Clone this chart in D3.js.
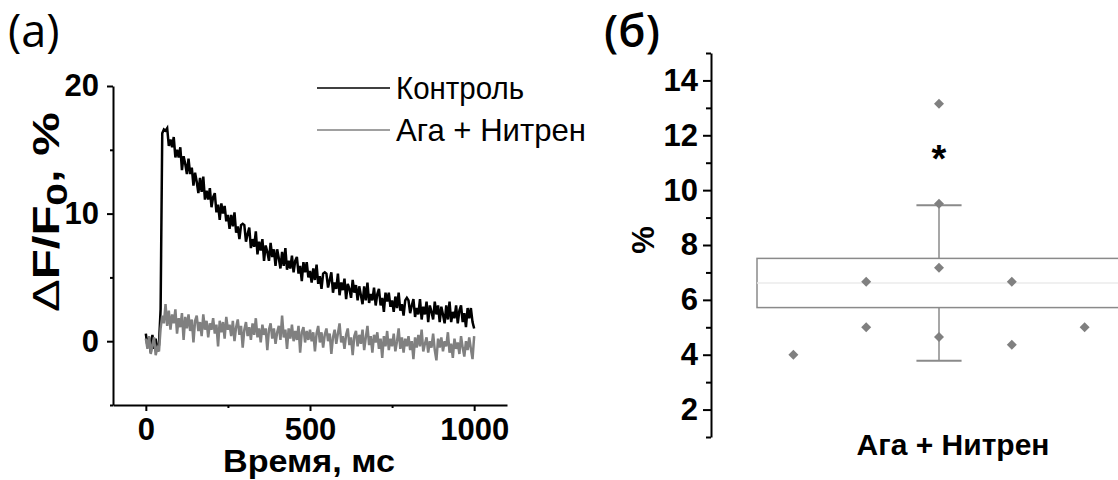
<!DOCTYPE html>
<html>
<head>
<meta charset="utf-8">
<title></title>
<script src="https://cdnjs.cloudflare.com/ajax/libs/d3/7.8.5/d3.min.js"></script>
<style>
  body { margin: 0; background: #fff; }
</style>
</head>
<body>
<script>
const width = 1118;
const height = 480;
const font = '"Liberation Sans", Arial, sans-serif';

// (a) fluorescence traces, one sample every 5 ms from 0 ms
const sampleStep = 5;
const controlTrace = [
  0.6, -0.4, 0.3, -0.9, 0.5, -0.6, 0.2, -0.8, -0.3, 2.5,
  16.3, 16.6, 16.5, 16.7, 15.3, 15.8, 15.2, 16.0, 14.4, 15.0,
  14.4, 15.2, 13.4, 14.5, 13.9, 13.1, 14.3, 13.1, 13.6, 12.2,
  13.2, 12.5, 11.6, 12.8, 11.7, 12.9, 11.1, 11.8, 11.1, 12.0,
  10.5, 11.3, 11.6, 10.1, 10.7, 9.5, 10.8, 10.0, 10.6, 9.4,
  9.9, 8.8, 9.9, 9.0, 10.1, 8.5, 9.0, 8.0, 9.1, 9.2,
  9.1, 7.8, 8.4, 8.9, 7.3, 8.0, 7.4, 8.6, 6.8, 7.8,
  7.1, 8.0, 6.3, 7.5, 7.0, 6.3, 7.7, 6.6, 7.2, 5.9,
  7.2, 6.5, 5.7, 7.0, 5.9, 7.3, 5.6, 6.3, 5.7, 6.7,
  5.4, 6.3, 6.6, 5.3, 5.9, 4.7, 6.2, 5.4, 6.2, 5.0,
  5.5, 4.6, 5.7, 4.8, 6.0, 4.5, 5.1, 4.1, 5.3, 5.4,
  5.3, 4.2, 4.8, 5.4, 3.8, 4.6, 4.1, 5.3, 3.6, 4.6,
  4.0, 4.9, 3.3, 4.5, 4.1, 3.4, 4.8, 3.8, 4.4, 3.2,
  4.3, 3.6, 2.9, 4.3, 3.2, 4.6, 3.0, 3.7, 3.2, 4.2,
  2.8, 3.7, 4.1, 2.8, 3.4, 2.3, 3.8, 3.1, 3.8, 2.7,
  3.2, 2.3, 3.5, 2.6, 3.8, 2.4, 2.9, 2.0, 3.2, 3.4,
  3.2, 2.2, 2.8, 3.3, 1.9, 2.6, 2.1, 3.3, 1.7, 2.7,
  2.1, 3.1, 1.5, 2.8, 2.3, 1.7, 3.1, 2.1, 2.8, 1.5,
  2.7, 2.1, 1.4, 2.8, 1.7, 3.1, 1.5, 2.3, 1.8, 2.8,
  1.4, 2.4, 2.8, 1.5, 2.2, 1.1, 2.6, 1.8, 2.6, 1.5,
  1.0
];
const agaTrace = [
  0.2, -0.6, 0.4, -1.0, -0.3, 0.3, -1.1, -0.5, -0.8, 1.0,
  2.0, 1.4, 2.9, 1.2, 2.4, 0.9, 2.1, 1.4, 2.5, 0.6,
  1.8, 1.1, 2.2, 0.1, 1.9, 1.0, 2.1, 0.8, 1.7, -0.1,
  1.6, 2.0, 0.8, 1.5, 0.4, 2.1, 0.9, 1.6, 0.3, 1.4,
  0.9, 1.8, 0.6, 1.3, -0.4, 1.6, 0.7, 1.5, 0.2, 1.9,
  0.9, 1.3, 0.4, 1.6, 0.0, 1.1, 1.7, 0.5, 1.2, -0.5,
  0.9, 1.5, 0.4, 1.1, 0.1, 1.4, 0.5, 1.8, 0.3, 1.0,
  -0.1, 1.3, 0.5, 1.0, -0.7, 0.9, 1.4, 0.2, 1.0, -0.2,
  0.7, 1.2, 0.1, 2.0, 0.3, 0.9, -0.6, 1.0, 0.2, 1.3,
  0.0, 0.8, 0.1, 1.2, -0.9, 0.7, 1.1, -0.1, 0.8, 0.1,
  0.9, 0.0, 0.7, -0.8, 0.6, 1.2, -0.1, 0.7, -0.5, 0.5,
  1.0, 0.0, 0.6, -1.0, 0.3, 0.9, -0.2, 0.6, 1.4, -0.1,
  0.4, -0.6, 0.5, 1.0, -0.3, 0.3, -1.1, 0.4, 0.8, -0.4,
  0.5, -0.2, 0.9, -0.7, 0.3, 1.2, -0.3, 0.4, -0.9, 0.5,
  -0.1, 0.7, -0.6, 0.2, -1.3, 0.4, -0.4, 0.8, -0.7, 0.2,
  -0.4, 0.6, -0.8, 0.0, 1.0, -0.6, 0.3, -0.9, 0.2, -0.4,
  0.4, -0.7, 0.0, -1.4, 0.3, -0.5, 0.5, -0.4, 0.9, -0.8,
  -0.2, 0.3, -0.9, 0.0, -0.5, 0.6, -0.7, -1.5, 0.2, -0.5,
  0.3, -0.8, 0.0, -0.4, 0.7, -0.9, -0.2, -1.3, 0.2, -0.6,
  -0.1, -1.0, 0.4, -0.5, -1.2, 0.0, -0.7, 0.3, -0.6, -1.4,
  0.4
];
const seriesNames = ['Контроль', 'Ага + Нитрен'];
const seriesColors = ['#000000', '#808080'];
const legendWidths = [128, 190];
const timeTicks = [0, 500, 1000];
const timeMinorTicks = [250, 750];
const dfTicks = [0, 10, 20];
const dfMinorTicks = [-5, 5, 15];

// (б) single cells
const groupName = 'Ага + Нитрен';
const pointValues = [4.0, 6.66, 5.0, 13.15, 9.5, 7.17, 4.65, 6.66, 4.36, 5.0];
const pointColumns = [-2, -1, -1, 0, 0, 0, 0, 1, 1, 2];
const pctTicks = [2, 4, 6, 8, 10, 12, 14];
const pctMinorTicks = [1, 3, 5, 7, 9, 11, 13, 15];
const starValue = 11.4;

const svg = d3.select('body').append('svg')
  .attr('width', width)
  .attr('height', height)
  .style('display', 'block');

const styleAxis = (g, size) => {
  g.attr('font-family', font).attr('font-size', size).attr('font-weight', 'bold');
  g.selectAll('.domain, .tick line').attr('stroke', '#000').attr('stroke-width', 2);
  g.selectAll('.tick text').attr('fill', '#000');
};

// ---------- panel (a) ----------
const xL = d3.scaleLinear().domain([-100, 1100]).range([113, 507]);
const yL = d3.scaleLinear().domain([-5, 20]).range([405, 86]);

svg.append('text')
  .attr('x', 8).attr('y', 47)
  .attr('font-family', '"Open Sans", sans-serif')
  .attr('font-size', 45)
  .text('(a)');

svg.append('g')
  .attr('transform', 'translate(113,0)')
  .call(d3.axisLeft(yL).tickValues(dfTicks).tickSize(6).tickSizeOuter(0).tickPadding(8))
  .call(g => styleAxis(g, 31));
svg.append('g')
  .attr('transform', 'translate(113,0)')
  .call(d3.axisLeft(yL).tickValues(dfMinorTicks).tickSize(3).tickFormat(''))
  .call(g => styleAxis(g, 31))
  .call(g => g.select('.domain').remove());

svg.append('g')
  .attr('transform', 'translate(0,405)')
  .call(d3.axisBottom(xL).tickValues(timeTicks).tickSize(6).tickSizeOuter(0).tickPadding(7).tickFormat(d3.format('d')))
  .call(g => styleAxis(g, 31));
svg.append('g')
  .attr('transform', 'translate(0,405)')
  .call(d3.axisBottom(xL).tickValues(timeMinorTicks).tickSize(3).tickFormat(''))
  .call(g => styleAxis(g, 31))
  .call(g => g.select('.domain').remove());

const traceLine = d3.line()
  .x((d, i) => xL(i * sampleStep))
  .y(d => yL(d));

svg.append('path')
  .datum(controlTrace)
  .attr('fill', 'none')
  .attr('stroke', seriesColors[0])
  .attr('stroke-width', 2.5)
  .attr('d', traceLine);

svg.append('path')
  .datum(agaTrace)
  .attr('fill', 'none')
  .attr('stroke', seriesColors[1])
  .attr('stroke-width', 2.5)
  .attr('d', traceLine);

// legend
const legend = svg.append('g')
  .selectAll('g')
  .data(seriesNames)
  .join('g')
  .attr('transform', (d, i) => `translate(317,${88 + i * 42})`);
legend.append('line')
  .attr('x1', 0).attr('x2', 73)
  .attr('stroke', (d, i) => seriesColors[i])
  .attr('stroke-width', 1.6);
legend.append('text')
  .attr('x', 79).attr('y', 11)
  .attr('font-family', font)
  .attr('font-size', 32)
  .attr('textLength', (d, i) => legendWidths[i])
  .attr('lengthAdjust', 'spacingAndGlyphs')
  .text(d => d);

svg.append('text')
  .attr('x', 309).attr('y', 472)
  .attr('text-anchor', 'middle')
  .attr('font-family', font)
  .attr('font-size', 31)
  .attr('font-weight', 'bold')
  .attr('textLength', 172)
  .attr('lengthAdjust', 'spacingAndGlyphs')
  .text('Время, мс');

const yLabel = svg.append('text')
  .attr('transform', 'translate(59,212) rotate(-90)')
  .attr('text-anchor', 'middle')
  .attr('font-family', font)
  .attr('font-size', 36)
  .attr('font-weight', 'bold')
  .attr('textLength', 200)
  .attr('lengthAdjust', 'spacingAndGlyphs');
yLabel.append('tspan').attr('font-weight', 'normal').text('Δ');
yLabel.append('tspan').text('F/F');
yLabel.append('tspan').attr('font-size', 30).attr('dy', 8).text('0');
yLabel.append('tspan').attr('dy', -8).text(', %');

// ---------- panel (б) ----------
const xR = d3.scaleLinear().domain([-2.5, 2.5]).range([757, 1121]);
const yR = d3.scaleLinear().domain([1, 15]).range([437, 53]);

const mean = d3.mean(pointValues);
const sd = d3.deviation(pointValues);
const se = sd / Math.sqrt(pointValues.length);

svg.append('text')
  .attr('x', 604).attr('y', 47)
  .attr('font-family', '"Open Sans", sans-serif')
  .attr('font-size', 45)
  .attr('font-weight', 600)
  .text('(б)');

svg.append('g')
  .attr('transform', 'translate(711,0)')
  .call(d3.axisLeft(yR).tickValues(pctTicks).tickSize(8).tickSizeOuter(0).tickPadding(5))
  .call(g => styleAxis(g, 31));
svg.append('g')
  .attr('transform', 'translate(711,0)')
  .call(d3.axisLeft(yR).tickValues(pctMinorTicks).tickSize(5).tickFormat(''))
  .call(g => styleAxis(g, 31))
  .call(g => g.select('.domain').remove());

svg.append('text')
  .attr('transform', 'translate(654,240) rotate(-90)')
  .attr('text-anchor', 'middle')
  .attr('font-family', font)
  .attr('font-size', 31)
  .attr('font-weight', 'bold')
  .text('%');

const boxColor = '#8a8a8a';

svg.append('rect')
  .attr('x', xR(-2.5))
  .attr('y', yR(mean + se))
  .attr('width', xR(2.5) - xR(-2.5))
  .attr('height', yR(mean - se) - yR(mean + se))
  .attr('fill', 'none')
  .attr('stroke', boxColor)
  .attr('stroke-width', 1.5);

svg.append('line')
  .attr('x1', xR(-2.5)).attr('x2', xR(2.5))
  .attr('y1', yR(mean)).attr('y2', yR(mean))
  .attr('stroke', '#ebebeb')
  .attr('stroke-width', 1.5);

// whiskers = mean ± SD
[[mean + se, mean + sd], [mean - se, mean - sd]].forEach(([from, to]) => {
  svg.append('line')
    .attr('x1', xR(0)).attr('x2', xR(0))
    .attr('y1', yR(from)).attr('y2', yR(to))
    .attr('stroke', boxColor).attr('stroke-width', 1.5);
  svg.append('line')
    .attr('x1', xR(-0.31)).attr('x2', xR(0.31))
    .attr('y1', yR(to)).attr('y2', yR(to))
    .attr('stroke', boxColor).attr('stroke-width', 2);
});

svg.append('g')
  .selectAll('path')
  .data(pointValues)
  .join('path')
  .attr('d', d3.symbol(d3.symbolSquare, 50))
  .attr('transform', (d, i) => `translate(${xR(pointColumns[i])},${yR(d)}) rotate(45)`)
  .attr('fill', '#808080');

svg.append('text')
  .attr('x', xR(0)).attr('y', yR(starValue) + 20)
  .attr('text-anchor', 'middle')
  .attr('font-family', font)
  .attr('font-size', 38)
  .attr('font-weight', 'bold')
  .text('*');

svg.append('text')
  .attr('x', 953).attr('y', 455)
  .attr('text-anchor', 'middle')
  .attr('font-family', font)
  .attr('font-size', 30)
  .attr('font-weight', 'bold')
  .text(groupName);
</script>
</body>
</html>
